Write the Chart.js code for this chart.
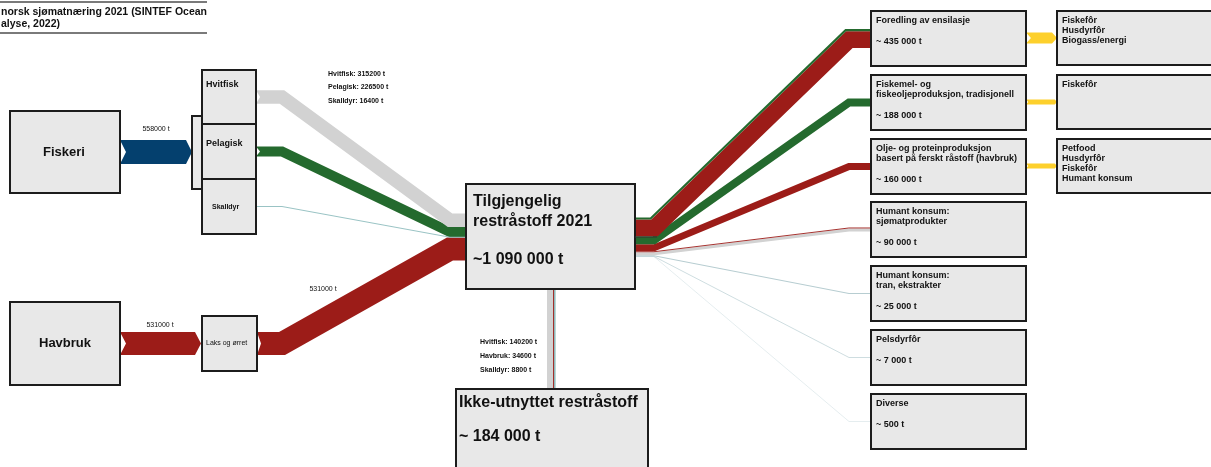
<!DOCTYPE html>
<html lang="no">
<head>
<meta charset="UTF-8">
<title>Restråstoff i norsk sjømatnæring 2021</title>
<script src="https://cdn.jsdelivr.net/npm/chart.js"></script>
<style>
  html, body { margin: 0; padding: 0; background: #fff; }
  .wrap { position: relative; width: 1211px; height: 467px; }
</style>
</head>
<body>
<div class="wrap"><canvas id="flow"></canvas></div>
<script>
// ---- data (tonn) ----
const titleLines = ['norsk sjømatnæring 2021 (SINTEF Ocean', 'alyse, 2022)'];
const sourceNames = ['Fiskeri', 'Havbruk'];
const sourceValues = [558000, 531000];
const catchNames = ['Hvitfisk', 'Pelagisk', 'Skalldyr'];
const catchValues = [315200, 226500, 16400];
const farmedName = 'Laks og ørret';
const farmedValue = 531000;
const availableLines = ['Tilgjengelig', 'restråstoff 2021'];
const availableTotal = 1090000;
const unusedName = 'Ikke-utnyttet restråstoff';
const unusedNames = ['Hvitfisk', 'Havbruk', 'Skalldyr'];
const unusedValues = [140200, 34600, 8800];
const unusedTotal = 184000;
const useNames = [
  'Foredling av ensilasje',
  'Fiskemel- og\nfiskeoljeproduksjon, tradisjonell',
  'Olje- og proteinproduksjon\nbasert på ferskt råstoff (havbruk)',
  'Humant konsum:\nsjømatprodukter',
  'Humant konsum:\ntran, ekstrakter',
  'Pelsdyrfôr',
  'Diverse'
];
const useValues = [435000, 188000, 160000, 90000, 25000, 7000, 500];
// fordeling av hver anvendelse på råstoff (fargene i strømmene)
const useFromPelagisk = [50000, 188000, 0, 0, 0, 0, 0];
const useFromHavbruk = [385000, 0, 160000, 20000, 0, 0, 0];
const useFromHvitfisk = [0, 0, 0, 70000, 0, 0, 0];
const useFromOther = [0, 0, 0, 0, 25000, 7000, 500];
const endUses = [
  'Fiskefôr\nHusdyrfôr\nBiogass/energi',
  'Fiskefôr',
  'Petfood\nHusdyrfôr\nFiskefôr\nHumant konsum'
];

// ---- styling / layout ----
const PX_PER_T = 23 / 531000;
const C = {
  box: '#e8e8e8', border: '#1c1c1c', text: '#111',
  blue: '#04406e', red: '#9c1c18', green: '#246a2e', grey: '#d2d2d2',
  teal: '#8dbcbd', other: [183, 205, 209], yellow: '#fdd02c'
};
const catchColors = [C.grey, C.green, C.teal];
const unusedColors = [C.grey, C.red, C.teal];
const L = {
  fiskeri: { x: 10, y: 111, w: 110, h: 82 },
  havbruk: { x: 10, y: 302, w: 110, h: 83 },
  bracket: { x: 192, y: 116, w: 10, h: 73 },
  catchBoxes: [{ x: 202, y: 70, w: 54, h: 54 }, { x: 202, y: 124, w: 54, h: 55 }, { x: 202, y: 179, w: 54, h: 55 }],
  farmed: { x: 202, y: 316, w: 55, h: 55 },
  available: { x: 466, y: 184, w: 169, h: 105 },
  unused: { x: 456, y: 389, w: 192, h: 95 },
  useX: 871, useW: 155, useH: 55, useY: [11, 75, 139, 202, 266, 330, 394],
  endX: 1057, endW: 170, endY: [11, 75, 139], endH: 54,
  yellowW: [11, 5, 5]
};
const FONT = '"Liberation Sans", Arial, sans-serif';

function cy(b) { return b.y + b.h / 2; }
function fmt(n) { return String(n).replace(/\B(?=(\d{3})+(?!\d))/g, ' '); }

// parallel offset of a polyline (mitred corners)
function offsetPath(pts, d) {
  const segN = (p1, p2) => {
    const dx = p2.x - p1.x, dy = p2.y - p1.y, l = Math.hypot(dx, dy);
    return { x: -dy / l, y: dx / l };
  };
  return pts.map((p, i) => {
    let n1 = i > 0 ? segN(pts[i - 1], p) : null;
    let n2 = i < pts.length - 1 ? segN(p, pts[i + 1]) : null;
    if (!n1) n1 = n2;
    if (!n2) n2 = n1;
    let mx = n1.x + n2.x, my = n1.y + n2.y;
    const ml = Math.hypot(mx, my);
    mx /= ml; my /= ml;
    const s = d / (mx * n1.x + my * n1.y);
    return { x: p.x + mx * s, y: p.y + my * s };
  });
}

const datasets = [];
function addFlow(path, parts, z) {
  const total = parts.reduce((s, p) => s + p.value, 0) * PX_PER_T;
  let acc = -total / 2;
  parts.forEach(p => {
    const w = p.value * PX_PER_T;
    const d = acc + w / 2;
    acc += w;
    datasets.push({
      data: offsetPath(path, d),
      showLine: true,
      borderColor: p.color,
      borderWidth: Math.max(w, 0.9),
      pointRadius: 0,
      borderJoinStyle: 'miter',
      borderCapStyle: 'butt',
      tension: 0,
      fill: false,
      order: 100 - z
    });
  });
}

// venstre side: artsgrupper + laks inn i tilgjengelig restråstoff
const MERGE_Y = 237;
const leftIn = catchValues.map((v, i) => ({ value: v, color: catchColors[i], x: 256, y: cy(L.catchBoxes[i]) }))
  .concat([{ value: farmedValue, color: C.red, x: 257, y: cy(L.farmed) }]);
const leftZ = [3, 2, 4, 1];
let leftTop = MERGE_Y - leftIn.reduce((s, f) => s + f.value, 0) * PX_PER_T / 2;
leftIn.forEach((f, i) => {
  const w = f.value * PX_PER_T;
  const ey = leftTop + w / 2;
  leftTop += w;
  addFlow([{ x: f.x, y: f.y }, { x: 282, y: f.y }, { x: 450, y: ey }, { x: 466, y: ey }],
    [{ value: f.value, color: f.color }], leftZ[i]);
});

// høyre side: anvendelser
const OUT_Y = 237;
let rightTop = OUT_Y - useValues.reduce((s, v) => s + v, 0) * PX_PER_T / 2;
useValues.forEach((v, i) => {
  const w = v * PX_PER_T;
  const sy = rightTop + w / 2;
  rightTop += w;
  const ey = L.useY[i] + L.useH / 2;
  const otherAlpha = Math.max(0.4, Math.min(1, useFromOther[i] * PX_PER_T * 2.5));
  const parts = [
    { value: useFromPelagisk[i], color: C.green },
    { value: useFromHavbruk[i], color: C.red },
    { value: useFromHvitfisk[i], color: C.grey },
    { value: useFromOther[i], color: `rgba(${C.other.join(',')},${otherAlpha})` }
  ].filter(p => p.value > 0);
  addFlow([{ x: 635, y: sy }, { x: 654, y: sy }, { x: 849, y: ey }, { x: L.useX, y: ey }], parts, 10 - i);
});

// ned: ikke-utnyttet restråstoff
addFlow([{ x: 551, y: L.available.y + L.available.h }, { x: 551, y: L.unused.y }],
  [2, 1, 0].map(i => ({ value: unusedValues[i], color: unusedColors[i] })), 5);

const diagram = {
  id: 'diagram',
  afterDatasetsDraw(chart) {
    const ctx = chart.ctx;
    const X = v => chart.scales.x.getPixelForValue(v);
    const Y = v => chart.scales.y.getPixelForValue(v);
    ctx.save();

    function rect(b, fill) {
      ctx.fillStyle = fill || C.box;
      ctx.fillRect(X(b.x), Y(b.y), b.w, b.h);
      ctx.lineWidth = 2;
      ctx.strokeStyle = C.border;
      ctx.strokeRect(X(b.x), Y(b.y), b.w, b.h);
    }
    function text(s, x, y, size, bold, align) {
      ctx.font = (bold ? 'bold ' : '') + size + 'px ' + FONT;
      ctx.fillStyle = C.text;
      ctx.textAlign = align || 'left';
      ctx.textBaseline = 'middle';
      ctx.fillText(s, X(x), Y(y));
    }
    function arrow(x0, x1, yc, w, notch, tip, color) {
      ctx.fillStyle = color;
      ctx.beginPath();
      ctx.moveTo(X(x0), Y(yc - w / 2));
      ctx.lineTo(X(x1 - tip), Y(yc - w / 2));
      ctx.lineTo(X(x1), Y(yc));
      ctx.lineTo(X(x1 - tip), Y(yc + w / 2));
      ctx.lineTo(X(x0), Y(yc + w / 2));
      ctx.lineTo(X(x0 + notch), Y(yc));
      ctx.closePath();
      ctx.fill();
    }
    function notch(x, yc, w) {
      ctx.fillStyle = '#fff';
      ctx.beginPath();
      ctx.moveTo(X(x), Y(yc - w / 2));
      ctx.lineTo(X(x + 4), Y(yc));
      ctx.lineTo(X(x), Y(yc + w / 2));
      ctx.closePath();
      ctx.fill();
    }

    // tittel
    ctx.strokeStyle = '#7a7a7a';
    ctx.lineWidth = 2;
    ctx.beginPath();
    ctx.moveTo(X(0), Y(2)); ctx.lineTo(X(207), Y(2));
    ctx.moveTo(X(0), Y(33)); ctx.lineTo(X(207), Y(33));
    ctx.stroke();
    text(titleLines[0], 1, 12, 10.5, true);
    text(titleLines[1], 1, 24, 10.5, true);

    // notch at flow starts
    leftIn.forEach(f => { if (f.value * PX_PER_T > 3) notch(f.x, f.y, f.value * PX_PER_T); });

    // piler fra kilder
    const fy = cy(L.fiskeri), hy = cy(L.havbruk);
    arrow(120, 192, fy, sourceValues[0] * PX_PER_T, 6, 6, C.blue);
    arrow(120, 201, hy, sourceValues[1] * PX_PER_T, 6, 6, C.red);
    text(sourceValues[0] + ' t', 156, 129, 7, false, 'center');
    text(sourceValues[1] + ' t', 160, 325, 7, false, 'center');
    text(farmedValue + ' t', 323, 289, 7, false, 'center');

    // gule piler
    L.endY.forEach((y, i) => {
      const w = L.yellowW[i];
      arrow(1026, 1057, y + L.endH / 2, w, w * 0.45, w * 0.45, C.yellow);
    });

    // bokser venstre
    rect(L.fiskeri);
    rect(L.havbruk);
    text(sourceNames[0], L.fiskeri.x + L.fiskeri.w / 2 - 1, fy, 13, true, 'center');
    text(sourceNames[1], L.havbruk.x + L.havbruk.w / 2, hy, 13, true, 'center');
    rect(L.bracket);
    L.catchBoxes.forEach(b => rect(b));
    text(catchNames[0], 206, 85, 9, true);
    text(catchNames[1], 206, 144, 9, true);
    text(catchNames[2], 212, 207, 7, true);
    rect(L.farmed);
    text(farmedName, 206, cy(L.farmed), 7, false);

    catchNames.forEach((n, i) => text(n + ': ' + catchValues[i] + ' t', 328, 74 + i * 13.5, 7, true));
    unusedNames.forEach((n, i) => text(n + ': ' + unusedValues[i] + ' t', 480, 342 + i * 14, 7, true));

    // midten
    rect(L.available);
    text(availableLines[0], 473, 202, 16, true);
    text(availableLines[1], 473, 222, 16, true);
    text('~' + fmt(availableTotal) + ' t', 473, 260, 16, true);
    rect(L.unused);
    text(unusedName, 459, 403, 16, true);
    text('~ ' + fmt(unusedTotal) + ' t', 459, 437, 16, true);

    ctx.strokeStyle = '#333';
    ctx.lineWidth = 1;
    ctx.beginPath();
    ctx.moveTo(X(635), Y(237)); ctx.lineTo(X(657), Y(237));
    ctx.stroke();

    // anvendelser
    useNames.forEach((n, i) => {
      const b = { x: L.useX, y: L.useY[i], w: L.useW, h: L.useH };
      rect(b);
      const lines = n.split('\n');
      lines.forEach((s, j) => text(s, b.x + 5, b.y + 10 + j * 10, 9, true));
      text('~ ' + fmt(useValues[i]) + ' t', b.x + 5, b.y + (lines.length === 1 ? 31 : 41), 9, true);
    });
    endUses.forEach((n, i) => {
      const b = { x: L.endX, y: L.endY[i], w: L.endW, h: L.endH };
      rect(b);
      n.split('\n').forEach((s, j) => text(s, b.x + 5, b.y + 10 + j * 10, 9, true));
    });

    ctx.restore();
  }
};

new Chart(document.getElementById('flow'), {
  type: 'scatter',
  data: { datasets: datasets },
  options: {
    responsive: true,
    maintainAspectRatio: false,
    animation: false,
    events: [],
    layout: { padding: 0 },
    scales: {
      x: { type: 'linear', min: 0, max: 1211, display: false },
      y: { type: 'linear', min: 0, max: 467, reverse: true, display: false }
    },
    plugins: { legend: { display: false }, tooltip: { enabled: false } }
  },
  plugins: [diagram]
});
</script>
</body>
</html>
